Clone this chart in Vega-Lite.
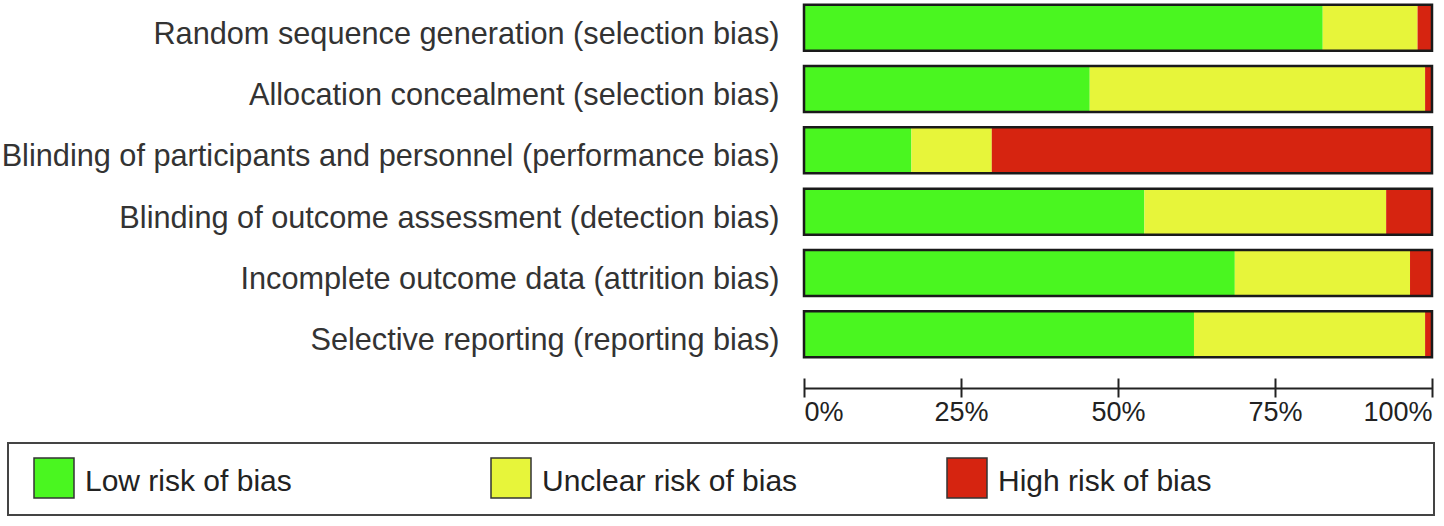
{
  "$schema": "https://vega.github.io/schema/vega-lite/v6.json",
  "autosize": {"type": "none"},
  "padding": {"left": 804, "top": 1, "right": 12, "bottom": 165},
  "width": 628,
  "height": 360,
  "background": "white",
  "config": {
    "view": {"stroke": null},
    "font": "Liberation Sans"
  },
  "data": {
    "values": [
      {"domain": "Random sequence generation (selection bias)", "risk": "Low risk of bias", "k": 1, "value": 0.826},
      {"domain": "Random sequence generation (selection bias)", "risk": "Unclear risk of bias", "k": 2, "value": 0.151},
      {"domain": "Random sequence generation (selection bias)", "risk": "High risk of bias", "k": 3, "value": 0.023},
      {"domain": "Allocation concealment (selection bias)", "risk": "Low risk of bias", "k": 1, "value": 0.455},
      {"domain": "Allocation concealment (selection bias)", "risk": "Unclear risk of bias", "k": 2, "value": 0.534},
      {"domain": "Allocation concealment (selection bias)", "risk": "High risk of bias", "k": 3, "value": 0.011},
      {"domain": "Blinding of participants and personnel (performance bias)", "risk": "Low risk of bias", "k": 1, "value": 0.171},
      {"domain": "Blinding of participants and personnel (performance bias)", "risk": "Unclear risk of bias", "k": 2, "value": 0.128},
      {"domain": "Blinding of participants and personnel (performance bias)", "risk": "High risk of bias", "k": 3, "value": 0.701},
      {"domain": "Blinding of outcome assessment (detection bias)", "risk": "Low risk of bias", "k": 1, "value": 0.542},
      {"domain": "Blinding of outcome assessment (detection bias)", "risk": "Unclear risk of bias", "k": 2, "value": 0.385},
      {"domain": "Blinding of outcome assessment (detection bias)", "risk": "High risk of bias", "k": 3, "value": 0.073},
      {"domain": "Incomplete outcome data (attrition bias)", "risk": "Low risk of bias", "k": 1, "value": 0.686},
      {"domain": "Incomplete outcome data (attrition bias)", "risk": "Unclear risk of bias", "k": 2, "value": 0.279},
      {"domain": "Incomplete outcome data (attrition bias)", "risk": "High risk of bias", "k": 3, "value": 0.035},
      {"domain": "Selective reporting (reporting bias)", "risk": "Low risk of bias", "k": 1, "value": 0.621},
      {"domain": "Selective reporting (reporting bias)", "risk": "Unclear risk of bias", "k": 2, "value": 0.368},
      {"domain": "Selective reporting (reporting bias)", "risk": "High risk of bias", "k": 3, "value": 0.011}
    ]
  },
  "resolve": {"axis": {"x": "independent"}},
  "layer": [
    {
      "mark": {"type": "bar"},
      "encoding": {
        "y": {
          "field": "domain",
          "type": "nominal",
          "sort": null,
          "scale": {"paddingInner": 0.25, "paddingOuter": 0.06},
          "axis": {
            "title": null,
            "ticks": false,
            "domain": false,
            "labelFontSize": 30.7,
            "labelColor": "#333",
            "labelPadding": 25,
            "labelOffset": 7,
            "labelLimit": 900,
            "labelFont": "Liberation Sans"
          }
        },
        "x": {
          "field": "value",
          "type": "quantitative",
          "stack": "normalize",
          "scale": {"domain": [0, 1], "nice": false},
          "axis": {
            "orient": "bottom",
            "title": null,
            "offset": 27,
            "grid": false,
            "ticks": false,
            "labels": false,
            "domain": true,
            "domainColor": "#222",
            "domainWidth": 2
          }
        },
        "color": {
          "field": "risk",
          "type": "nominal",
          "scale": {
            "domain": ["Low risk of bias", "Unclear risk of bias", "High risk of bias"],
            "range": ["#4af620", "#e7f53a", "#d62410"]
          },
          "legend": {
            "title": null,
            "orient": "none",
            "legendX": -796,
            "legendY": 442,
            "direction": "horizontal",
            "columns": 3,
            "gridAlign": "each",
            "columnPadding": 137,
            "padding": 14,
            "strokeColor": "#444",
            "fillColor": "white",
            "symbolType": "square",
            "symbolSize": 1600,
            "symbolOpacity": 1,
            "symbolStrokeColor": "#333",
            "symbolStrokeWidth": 1.5,
            "symbolOffset": 11,
            "labelFontSize": 30,
            "labelFont": "Liberation Sans",
            "labelColor": "#222",
            "labelOffset": 10,
            "labelLimit": 900,
            "labelExpr": "datum.label == 'Low risk of bias' ? datum.label + '      \u200b' : datum.label == 'High risk of bias' ? datum.label + '                         \u200b' : datum.label",
            "encode": {
              "legend": {"update": {"strokeWidth": {"value": 2}}},
              "labels": {"update": {"dy": {"value": 4}}}
            }
          }
        },
        "order": {"field": "k", "type": "quantitative"}
      }
    },
    {
      "mark": {"type": "bar", "fill": "transparent", "stroke": "#1a1a1a", "strokeWidth": 2.5},
      "encoding": {
        "y": {"field": "domain", "type": "nominal", "sort": null},
        "x": {
          "aggregate": "sum",
          "field": "value",
          "type": "quantitative",
          "axis": {
            "orient": "bottom",
            "title": null,
            "offset": 17,
            "grid": false,
            "domain": false,
            "ticks": true,
            "tickSize": 19,
            "tickWidth": 2,
            "tickColor": "#222",
            "values": [0, 0.25, 0.5, 0.75, 1],
            "format": "%",
            "labelFontSize": 27,
            "labelFont": "Liberation Sans",
            "labelColor": "#222",
            "labelPadding": 2,
            "labelFlush": true
          }
        }
      }
    }
  ]
}
